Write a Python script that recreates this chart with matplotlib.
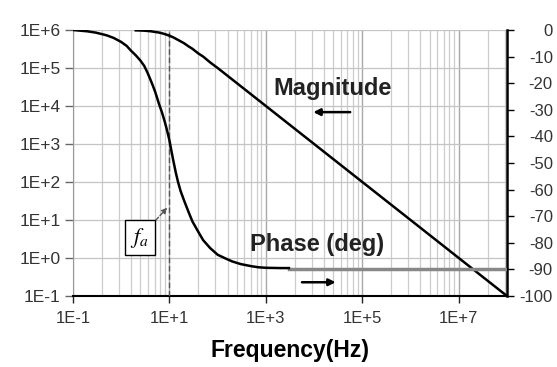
import numpy as np
import matplotlib
matplotlib.use("Agg")
import matplotlib.pyplot as plt
from matplotlib.ticker import FixedLocator, NullLocator, NullFormatter

plt.rcParams['font.family'] = ['Liberation Sans', 'DejaVu Sans']

# ---- data ----
mag_freq = [2, 2.5, 3, 4, 5, 6, 7, 8, 10, 12, 15, 20, 25, 30, 40, 50, 70, 100, 200,
            1e3, 1e4, 1e5, 1e6, 1e7, 1e8]
mag_vals = [9.8e5, 9.7e5, 9.6e5, 9.3e5, 8.9e5, 8.6e5, 8.2e5, 7.8e5, 7.1e5, 6.4e5,
            5.5e5, 4.5e5, 3.7e5, 3.2e5, 2.4e5, 2.0e5, 1.4e5, 1.0e5, 5.0e4,
            1.0e4, 1.0e3, 1.0e2, 1.0e1, 1.0, 0.1]

phase_freq = [0.1, 0.2, 0.3, 0.5, 0.7, 1, 1.3, 1.6, 2, 2.5, 3, 3.5, 4, 4.5, 5, 5.5, 6,
              7, 8, 9, 10, 11, 12, 13.5, 15, 17, 20, 25, 30, 40, 50, 70, 100, 150,
              200, 300, 500, 700, 1000, 2000, 3000]
phase_vals = [0, -0.5, -1.0, -2.0, -3.0, -4.5, -6, -7.8, -9.5, -11.5, -13.5, -16, -18.5,
              -20.8, -23, -25.3, -27.5, -31, -34.5, -38, -41.5, -45.5, -49, -53.5,
              -57, -60.5, -64, -68.5, -72, -76, -79, -82, -84.5, -86, -87, -88,
              -88.8, -89.2, -89.4, -89.5, -89.5]

ref90_freq = [3000, 1e8]
ref90_vals = [-90, -90]

fa_freq = 10

x_ticks = [1e-1, 1e1, 1e3, 1e5, 1e7]
x_labels = ['1E-1', '1E+1', '1E+3', '1E+5', '1E+7']
y_ticks = [1e-1, 1e0, 1e1, 1e2, 1e3, 1e4, 1e5, 1e6]
y_labels = ['1E-1', '1E+0', '1E+1', '1E+2', '1E+3', '1E+4', '1E+5', '1E+6']
y2_ticks = [0, -10, -20, -30, -40, -50, -60, -70, -80, -90, -100]
y2_labels = ['0', '-10', '-20', '-30', '-40', '-50', '-60', '-70', '-80', '-90', '-100']

# minor vertical gridlines (Excel log-100 style: k^2 steps within each 2-decade cycle)
minor_x = [10 ** (a + 2 * np.log10(k)) for a in (-1, 1, 3, 5, 7) for k in range(2, 10)]

fig = plt.figure(figsize=(5.57, 3.67), dpi=100)
ax = fig.add_axes([73 / 557, 1 - 296 / 367, (507 - 73) / 557, (296 - 30) / 367])
ax.set_xscale('log')
ax.set_yscale('log')
ax.set_xlim(1e-1, 1e8)
ax.set_ylim(1e-1, 1e6)

ax.xaxis.set_major_locator(FixedLocator(x_ticks))
ax.set_xticklabels(x_labels)
ax.xaxis.set_minor_locator(FixedLocator(minor_x))
ax.xaxis.set_minor_formatter(NullFormatter())
ax.yaxis.set_major_locator(FixedLocator(y_ticks))
ax.set_yticklabels(y_labels)
ax.yaxis.set_minor_locator(NullLocator())

ax.grid(True, which='major', axis='x', color='#a8a8a8', lw=1.0)
ax.grid(True, which='minor', axis='x', color='#cccccc', lw=0.9)
ax.grid(True, which='major', axis='y', color='#c4c4c4', lw=0.9)
ax.set_axisbelow(True)

ax.tick_params(axis='x', which='major', direction='out', length=5, width=1,
               color='#222222', labelsize=12, labelcolor='#333333', pad=6)
ax.tick_params(axis='x', which='minor', length=0)
ax.tick_params(axis='y', which='major', direction='out', length=6, width=1,
               color='#666666', labelsize=12.5, labelcolor='#333333', pad=3)

ax.spines['top'].set_visible(False)
ax.spines['left'].set_color('#999999')
ax.spines['bottom'].set_color('black')
ax.spines['bottom'].set_linewidth(1.5)
ax.spines['right'].set_visible(False)

ax.plot(mag_freq, mag_vals, color='black', lw=1.8, zorder=5)
ax.axvline(fa_freq, color='#555555', lw=1, ls=(0, (4, 2)), zorder=4)

ax2 = ax.twinx()
ax2.set_ylim(-100, 0)
ax2.yaxis.set_major_locator(FixedLocator(y2_ticks))
ax2.set_yticklabels(y2_labels)
ax2.tick_params(axis='y', direction='out', length=5, width=1, color='black',
                labelsize=12, labelcolor='#333333', pad=28)
for lab in ax2.get_yticklabels():
    lab.set_horizontalalignment('right')
for s in ('top', 'left', 'bottom'):
    ax2.spines[s].set_visible(False)
ax2.spines['right'].set_color('black')
ax2.spines['right'].set_linewidth(1.8)

ax2.plot(ref90_freq, ref90_vals, color='#888888', lw=2.5, zorder=3)
ax2.plot(phase_freq, phase_vals, color='black', lw=1.8, zorder=5)

ax.set_xlabel('Frequency(Hz)', fontsize=16.5, fontweight='bold', labelpad=9)

ax.text(1.4e3, 2.9e4, 'Magnitude', fontsize=17, fontweight='bold', ha='left',
        va='center', color='#222222', zorder=6)
ax.annotate('', xy=(9.6e3, 6.9e3), xytext=(5.6e4, 6.9e3),
            arrowprops=dict(arrowstyle='-|>', color='black', lw=1.8, mutation_scale=10,
                            shrinkA=0, shrinkB=0))
ax.text(4.7e2, 2.2, 'Phase (deg)', fontsize=17, fontweight='bold', ha='left',
        va='center', color='#222222', zorder=6)
ax.annotate('', xy=(2.8e4, 0.23), xytext=(5.6e3, 0.23),
            arrowprops=dict(arrowstyle='-|>', color='black', lw=1.8, mutation_scale=10,
                            shrinkA=0, shrinkB=0))

ax.annotate(r'$f_a$', xy=(9, 21), xytext=(2.4, 3.4), fontsize=16,
            math_fontfamily='stix', ha='center', va='center',
            bbox=dict(boxstyle='square,pad=0.25', fc='white', ec='black', lw=1),
            arrowprops=dict(arrowstyle='-|>', color='#555555', lw=1, ls='--',
                            mutation_scale=8, shrinkA=0, shrinkB=0), zorder=7)

fig.savefig('out.png', dpi=100)
